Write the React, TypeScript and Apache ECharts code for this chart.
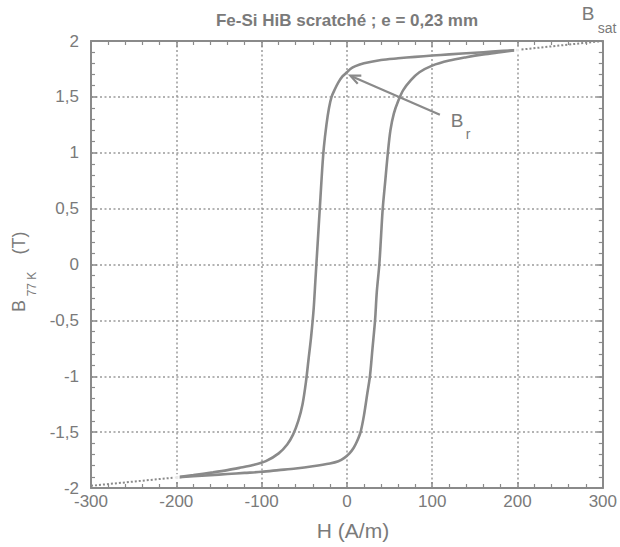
import React, { useEffect, useRef } from "react";
import * as echarts from "echarts";

// Descending branch (from +H_max to -H_max): [H (A/m), B (T)]
const descendingBranch: [number, number][] = [
  [200, 1.92], [170, 1.905], [150, 1.895], [120, 1.88], [100, 1.87], [80, 1.858],
  [60, 1.845], [40, 1.83], [20, 1.80], [10, 1.775], [4, 1.75], [0, 1.72],
  [-5, 1.685], [-10, 1.63], [-14, 1.57], [-18, 1.5], [-21, 1.4], [-24, 1.25],
  [-27, 1.05], [-29, 0.85], [-31, 0.6], [-33, 0.35], [-35, 0.1], [-37, -0.15],
  [-39, -0.4], [-42, -0.65], [-45, -0.85], [-48, -1.05], [-52, -1.25], [-57, -1.4],
  [-63, -1.52], [-70, -1.61], [-80, -1.69], [-95, -1.76], [-110, -1.795],
  [-126, -1.82], [-140, -1.84], [-157, -1.86], [-180, -1.885], [-200, -1.905],
];

// Ascending branch (from -H_max to +H_max)
const ascendingBranch: [number, number][] = [
  [-200, -1.905], [-180, -1.895], [-160, -1.885], [-140, -1.875], [-120, -1.865],
  [-100, -1.855], [-80, -1.84], [-60, -1.825], [-40, -1.805], [-20, -1.78],
  [-10, -1.76], [-3, -1.73], [3, -1.69], [8, -1.64], [12, -1.58], [16, -1.5],
  [20, -1.35], [24, -1.15], [27, -1.0], [30, -0.75], [33, -0.5], [35, -0.25],
  [38, 0], [40, 0.25], [42, 0.5], [45, 0.75], [48, 1.0], [51, 1.2], [55, 1.35],
  [60, 1.46], [66, 1.56], [75, 1.65], [85, 1.72], [100, 1.78], [120, 1.825],
  [140, 1.855], [160, 1.88], [180, 1.9], [200, 1.92],
];

// Dotted extrapolation towards saturation
const lowExtension: [number, number][] = [[-300, -1.98], [-200, -1.905]];
const highExtension: [number, number][] = [[200, 1.92], [300, 2.0]];
const junctionPoints: [number, number][] = [[200, 1.92], [-200, -1.905]];

// Annotation arrow for B_r: tail -> tip (data coords)
const brArrowTail: [number, number] = [109, 1.34];
const brArrowTip: [number, number] = [4, 1.69];

const xTicks = { min: -300, max: 300, interval: 100 };
const yTicks = { min: -2, max: 2, interval: 0.5 };

const titleText = "Fe-Si HiB scratché ; e = 0,23 mm";
const xAxisTitle = "H (A/m)";

const FONT = '"Liberation Sans", Arial, Helvetica, sans-serif';
const GREY = "#8a8a8a";
const TEXT = "#7a7a7a";

export default function App() {
  const ref = useRef<HTMLDivElement>(null);

  useEffect(() => {
    if (!ref.current) return;
    const chart = echarts.init(ref.current, undefined, { renderer: "svg" });

    const axisCommon = {
      axisLine: { show: true, onZero: false, lineStyle: { color: GREY, width: 2 } },
      axisTick: { show: true, inside: true, length: 6, lineStyle: { color: GREY, width: 1.5 } },
      minorTick: { show: true, splitNumber: 5, length: 4, lineStyle: { color: GREY, width: 1.2 } },
    };

    const text = (t: string, x: number, y: number, size: number, extra: any = {}) => ({
      type: "text",
      x,
      y,
      rotation: extra.rotation || 0,
      silent: true,
      style: {
        text: t,
        fill: TEXT,
        fontSize: size,
        fontFamily: FONT,
        fontWeight: extra.fontWeight || "normal",
        align: "center",
        verticalAlign: "middle",
        textAlign: "center",
        textVerticalAlign: "middle",
      },
    });

    chart.setOption({
      animation: false,
      backgroundColor: "#ffffff",
      grid: { left: 91, right: 13, top: 41, bottom: 59 },
      xAxis: [
        {
          type: "value",
          ...xTicks,
          ...axisCommon,
          axisLabel: { color: TEXT, fontSize: 17, fontFamily: FONT, margin: 5 },
          splitLine: { show: true, lineStyle: { color: "#9a9a9a", width: 1.5, type: [2, 2.5] } },
        },
        {
          type: "value",
          position: "top",
          ...xTicks,
          ...axisCommon,
          axisLabel: { show: false },
          splitLine: { show: false },
        },
      ],
      yAxis: [
        {
          type: "value",
          ...yTicks,
          ...axisCommon,
          axisLabel: {
            color: TEXT,
            fontSize: 17,
            fontFamily: FONT,
            margin: 12,
            formatter: (v: number) => String(v).replace(".", ","),
          },
          splitLine: { show: true, lineStyle: { color: "#9a9a9a", width: 1.5, type: [2, 2.5] } },
        },
        {
          type: "value",
          position: "right",
          ...yTicks,
          ...axisCommon,
          axisLabel: { show: false },
          splitLine: { show: false },
        },
      ],
      series: [
        {
          type: "line",
          data: lowExtension,
          symbol: "none",
          lineStyle: { color: GREY, width: 2, type: [2, 2] },
          z: 3,
        },
        {
          type: "line",
          data: highExtension,
          symbol: "none",
          lineStyle: { color: GREY, width: 2, type: [2, 2] },
          z: 3,
        },
        {
          type: "line",
          data: descendingBranch,
          symbol: "none",
          smooth: 0.3,
          lineStyle: { color: GREY, width: 2.6 },
          z: 4,
        },
        {
          type: "line",
          data: ascendingBranch,
          symbol: "none",
          smooth: 0.3,
          lineStyle: { color: GREY, width: 2.6 },
          z: 4,
        },
        {
          type: "scatter",
          data: junctionPoints,
          symbol: "emptyRect",
          symbolSize: 5,
          itemStyle: { color: "#ffffff", borderColor: GREY, borderWidth: 1.2 },
          z: 5,
        },
      ],
    });

    const tip = chart.convertToPixel({ gridIndex: 0 }, brArrowTip) as number[];
    const tail = chart.convertToPixel({ gridIndex: 0 }, brArrowTail) as number[];
    const ang = Math.atan2(tail[1] - tip[1], tail[0] - tip[0]);
    const headLen = 11;
    const spread = 0.42;
    const h1 = [tip[0] + headLen * Math.cos(ang + spread), tip[1] + headLen * Math.sin(ang + spread)];
    const h2 = [tip[0] + headLen * Math.cos(ang - spread), tip[1] + headLen * Math.sin(ang - spread)];

    chart.setOption({
      graphic: [
        text(titleText, 347, 20, 17, { fontWeight: "bold" }),
        text(xAxisTitle, 353, 530, 21),
        // y axis title: B_77 K (T), rotated
        text("B", 19, 306, 18, { rotation: Math.PI / 2 }),
        text("77 K", 32, 284, 12, { rotation: Math.PI / 2 }),
        text("(T)", 19, 243, 18, { rotation: Math.PI / 2 }),
        // B_sat
        text("B", 588, 13, 19),
        text("sat", 607, 28, 14),
        // B_r
        text("B", 457, 120, 19),
        text("r", 468, 134, 14),
        {
          type: "line",
          silent: true,
          z: 10,
          shape: { x1: tail[0], y1: tail[1], x2: tip[0], y2: tip[1] },
          style: { stroke: GREY, lineWidth: 2.2 },
        },
        {
          type: "polyline",
          silent: true,
          z: 10,
          shape: { points: [h1, tip, h2] },
          style: { stroke: GREY, lineWidth: 2.2, fill: null },
        },
      ],
    });

    return () => chart.dispose();
  }, []);

  return (
    <div
      ref={ref}
      style={{ position: "fixed", left: 0, top: 0, width: 620, height: 547, background: "#fff" }}
    />
  );
}
